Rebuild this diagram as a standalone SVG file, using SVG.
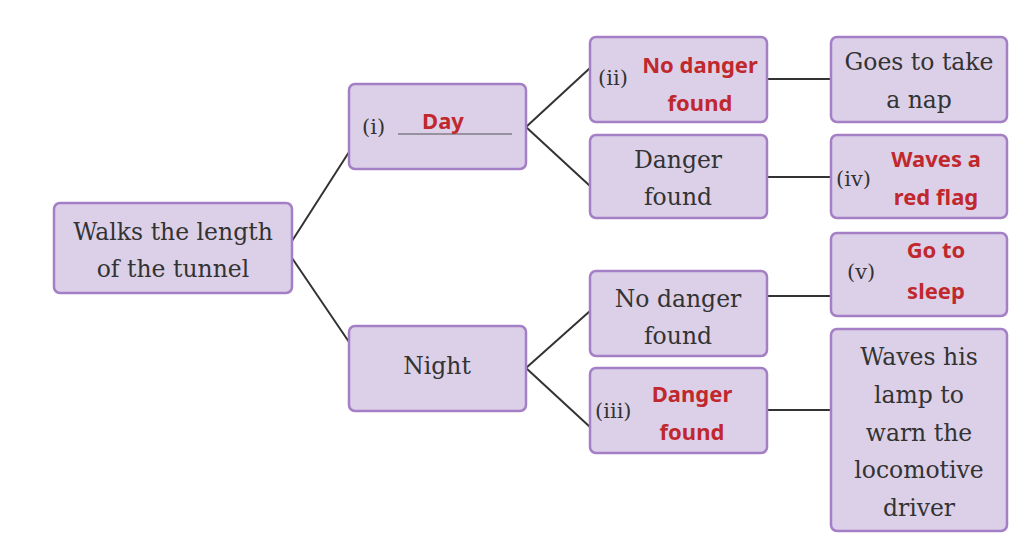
<svg xmlns="http://www.w3.org/2000/svg" width="1024" height="549" viewBox="0 0 1024 549">
<style>
.n{fill:#dcd0e8;stroke:#a47fc6;stroke-width:2.5}
.t{font-family:"DejaVu Serif","Liberation Serif",serif;font-size:23.5px;fill:#333;text-anchor:middle}
.l{font-family:"DejaVu Serif","Liberation Serif",serif;font-size:21px;fill:#333}
.r{font-family:"Noto Sans","Open Sans",sans-serif;font-size:22px;font-weight:bold;fill:#c0282d;text-anchor:middle}
.c{stroke:#333;stroke-width:2;fill:none}
</style>
<rect width="1024" height="549" fill="#fff"/>
<g id="connectors">
<path class="c" d="M292 241L349 152M292 258L349 342M526 127L590 68M526 127L590 186M526 368L590 311M526 368L590 427M767 79H831M767 177H831M767 296H831M767 410H831"/>
</g>
<g id="root"><rect class="n" x="54" y="203" width="238" height="90" rx="6"/><text class="t" x="173" y="240">Walks the length</text><text class="t" x="173" y="277">of the tunnel</text></g>
<g id="day"><rect class="n" x="349" y="84" width="177" height="85" rx="6"/><text class="l" x="362" y="134">(i)</text><line x1="398" y1="134" x2="512" y2="134" stroke="#555" stroke-width="1.2"/><text class="r" x="443" y="129" font-size="26">Day</text></g>
<g id="night"><rect class="n" x="349" y="326" width="177" height="85" rx="6"/><text class="t" x="437" y="374">Night</text></g>
<g id="ii"><rect class="n" x="590" y="37" width="177" height="85" rx="6"/><text class="l" x="598" y="85">(ii)</text><text class="r" x="700" y="73">No danger</text><text class="r" x="700" y="111">found</text></g>
<g id="danger"><rect class="n" x="590" y="135" width="177" height="83" rx="6"/><text class="t" x="678" y="168">Danger</text><text class="t" x="678" y="205">found</text></g>
<g id="nodanger"><rect class="n" x="590" y="271" width="177" height="85" rx="6"/><text class="t" x="678" y="307">No danger</text><text class="t" x="678" y="344">found</text></g>
<g id="iii"><rect class="n" x="590" y="368" width="177" height="85" rx="6"/><text class="l" x="595" y="418">(iii)</text><text class="r" x="692" y="402">Danger</text><text class="r" x="692" y="440">found</text></g>
<g id="nap"><rect class="n" x="831" y="37" width="176" height="85" rx="6"/><text class="t" x="919" y="70">Goes to take</text><text class="t" x="919" y="108">a nap</text></g>
<g id="iv"><rect class="n" x="831" y="135" width="176" height="83" rx="6"/><text class="l" x="836" y="186">(iv)</text><text class="r" x="936" y="167">Waves a</text><text class="r" x="936" y="205">red flag</text></g>
<g id="v"><rect class="n" x="831" y="233" width="176" height="83" rx="6"/><text class="l" x="847" y="279">(v)</text><text class="r" x="936" y="258">Go to</text><text class="r" x="936" y="299">sleep</text></g>
<g id="lamp"><rect class="n" x="831" y="329" width="176" height="202" rx="6"/><text class="t" x="919" y="365">Waves his</text><text class="t" x="919" y="403">lamp to</text><text class="t" x="919" y="441">warn the</text><text class="t" x="919" y="478">locomotive</text><text class="t" x="919" y="516">driver</text></g>
</svg>
